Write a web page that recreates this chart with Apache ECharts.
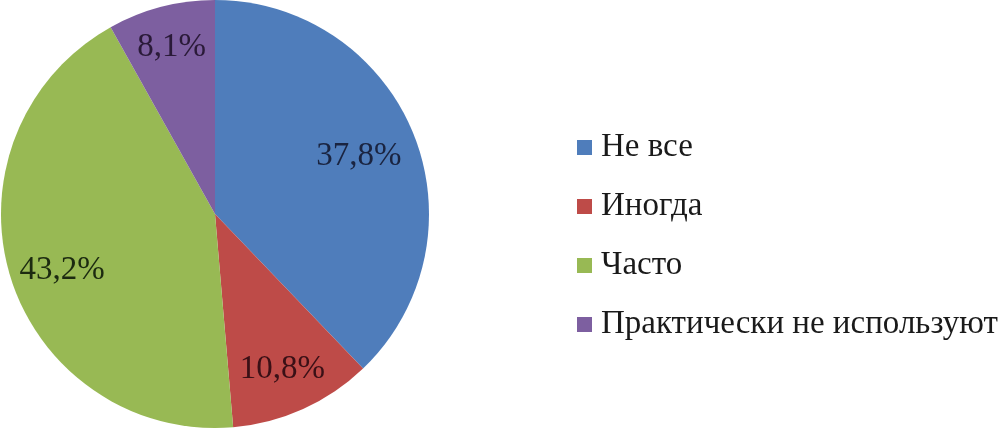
<!DOCTYPE html>
<html><head><meta charset="utf-8">
<script src="https://cdn.jsdelivr.net/npm/echarts@6/dist/echarts.min.js"></script>
<style>html,body{margin:0;padding:0;background:#fff}#c{width:998px;height:430px}</style>
</head><body><div id="c"></div>
<script>
const categories = ["Не все", "Иногда", "Часто", "Практически не используют"];
const values = [37.8, 10.8, 43.2, 8.1];
const labels = ["37,8%", "10,8%", "43,2%", "8,1%"];
const colors = ["#4F7DBB", "#BE4B48", "#98B954", "#7D5FA0"];
const labelColors = ["#1a2440", "#3a1016", "#1c2a10", "#2a1a38"];
// placement of each inside label (style): radial distance and angular shift in degrees
const labelRadius = [155, 169, 163, 172];
const labelAngleShift = [0, 0.8, -3.3, 0];

const font = '"Liberation Serif", "Times New Roman", "DejaVu Serif", serif';
const CX = 215, CY = 214, R = 214;
const data = categories.map((n, i) => ({
  name: n, value: values[i],
  itemStyle: { color: colors[i] },
  label: { formatter: labels[i], color: labelColors[i] }
}));

const chart = echarts.init(document.getElementById('c'), null, { renderer: 'canvas' });
chart.setOption({
  animation: false,
  textStyle: { fontFamily: font },
  legend: {
    orient: 'vertical',
    left: 577,
    top: 131,
    padding: 0,
    itemWidth: 15,
    itemHeight: 15,
    itemGap: 26,
    icon: 'rect',
    data: categories,
    textStyle: { fontFamily: font, fontSize: 33, color: '#1a1a1a', lineHeight: 33, padding: [0, 0, 0, 4] }
  },
  series: [
    {
      type: 'pie',
      center: [CX, CY],
      radius: [0, R],
      startAngle: 90,
      clockwise: true,
      data: data,
      label: { show: true, position: 'inside', fontFamily: font, fontSize: 33 },
      labelLine: { show: false },
      labelLayout: function (p) {
        const r = p.labelRect;
        const lx = r.x + r.width / 2, ly = r.y + r.height / 2;
        let a = Math.atan2(ly - CY, lx - CX) + labelAngleShift[p.dataIndex] * Math.PI / 180;
        const rr = labelRadius[p.dataIndex];
        return { x: CX + rr * Math.cos(a), y: CY + rr * Math.sin(a), align: 'center', verticalAlign: 'middle' };
      },
      emphasis: { disabled: true }
    }
  ]
});
</script></body></html>
